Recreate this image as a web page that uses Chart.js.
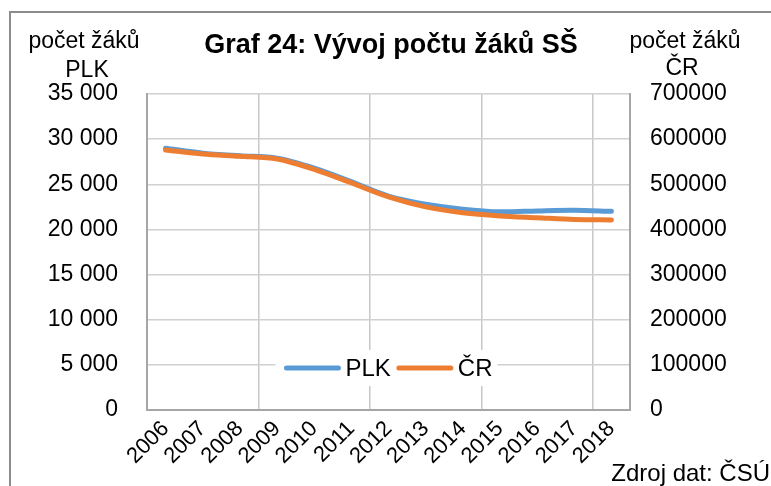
<!DOCTYPE html>
<html>
<head>
<meta charset="utf-8">
<script src="https://cdn.jsdelivr.net/npm/chart.js@4"></script>
<style>
  html, body { margin: 0; padding: 0; background: #fff; }
  #wrap { width: 771px; height: 486px; }
</style>
</head>
<body>
<div id="wrap"><canvas id="c" width="771" height="486"></canvas></div>
<script>
const years = ["2006","2007","2008","2009","2010","2011","2012","2013","2014","2015","2016","2017","2018"];
const plk = [29000, 28450, 28150, 27900, 26800, 25300, 23700, 22800, 22250, 21950, 22050, 22120, 22000];
const cr = [576000, 567000, 562000, 556000, 533000, 503000, 472000, 450000, 437000, 430000, 426000, 422000, 421000];
const leftTicks = { min: 0, max: 35000, step: 5000 };
const rightTicks = { min: 0, max: 700000, step: 100000 };

const FONT = "'Liberation Sans', Arial, sans-serif";
const BLUE = "#5b9bd5", ORANGE = "#ed7d31";

function spaced(v) { return String(v).replace(/\B(?=(\d{3})+(?!\d))/g, " "); }

// texty, rámeček a legenda uvnitř grafu
const decor = {
  id: "decor",
  beforeDraw(chart) {
    const ctx = chart.ctx;
    ctx.save();
    ctx.fillStyle = "#fff";
    ctx.fillRect(0, 0, chart.width, chart.height);
    ctx.strokeStyle = "#8c8c8c";
    ctx.lineWidth = 2;
    ctx.strokeRect(10, 12, 800, 500);
    ctx.restore();
  },
  afterDraw(chart) {
    const ctx = chart.ctx, a = chart.chartArea;
    ctx.save();
    ctx.fillStyle = "#000";
    ctx.textBaseline = "alphabetic";
    ctx.textAlign = "center";
    ctx.font = "bold 27px " + FONT;
    ctx.fillText("Graf 24: Vývoj počtu žáků SŠ", 391, 53);
    ctx.font = "23px " + FONT;
    ctx.fillText("počet žáků", 84, 48);
    ctx.fillText("PLK", 87, 77);
    ctx.fillText("počet žáků", 685, 48);
    ctx.fillText("ČR", 682, 75);
    ctx.textAlign = "right";
    ctx.font = "24px " + FONT;
    ctx.fillText("Zdroj dat: ČSÚ", 770, 481);

    // legenda
    const items = chart.data.datasets.map(d => ({ label: d.label, color: d.borderColor }));
    ctx.font = "24px " + FONT;
    const sample = 56, gap1 = 5, gap2 = 6;
    let total = 0;
    items.forEach((it, i) => { it.w = ctx.measureText(it.label).width; total += sample + gap1 + it.w + (i < items.length - 1 ? gap2 : 0); });
    const cx = (a.left + a.right) / 2, cy = a.bottom - 42;
    let x = cx - total / 2;
    ctx.fillStyle = "#fff";
    ctx.fillRect(x - 9, cy - 18, total + 14, 36);
    ctx.textAlign = "left";
    ctx.textBaseline = "middle";
    items.forEach(it => {
      ctx.strokeStyle = it.color;
      ctx.lineWidth = 5;
      ctx.lineCap = "round";
      ctx.beginPath();
      ctx.moveTo(x + 2, cy);
      ctx.lineTo(x + sample - 2, cy);
      ctx.stroke();
      x += sample + gap1;
      ctx.fillStyle = "#000";
      ctx.fillText(it.label, x, cy + 1);
      x += it.w + gap2;
    });
    ctx.restore();
  }
};

new Chart(document.getElementById("c"), {
  type: "line",
  data: {
    labels: years,
    datasets: [
      { label: "PLK", data: plk, yAxisID: "y", borderColor: BLUE, backgroundColor: BLUE, borderWidth: 5, pointRadius: 0, tension: 0.3, borderCapStyle: "round", order: 2 },
      { label: "ČR", data: cr, yAxisID: "y2", borderColor: ORANGE, backgroundColor: ORANGE, borderWidth: 5, pointRadius: 0, tension: 0.3, borderCapStyle: "round", order: 1 }
    ]
  },
  options: {
    responsive: false,
    animation: false,
    layout: { padding: { top: 94, left: 0, right: 0, bottom: 0 } },
    plugins: { legend: { display: false }, title: { display: false }, tooltip: { enabled: false } },
    scales: {
      x: {
        type: "category",
        offset: true,
        afterFit: s => { s.height = 76; },
        grid: { offset: true, drawTicks: false, color: c => (c.index % 3 === 0 ? "#c8c8c8" : "rgba(0,0,0,0)"), lineWidth: 1.5 },
        border: { display: true, color: "#a6a6a6", width: 2 },
        ticks: { autoSkip: false, minRotation: 45, maxRotation: 45, padding: 6, color: "#000", font: { family: FONT, size: 22 } }
      },
      y: {
        position: "left",
        min: leftTicks.min, max: leftTicks.max,
        afterFit: s => { s.width = 147; },
        grid: { drawTicks: false, color: "#d0d0d0", lineWidth: 1.5 },
        border: { display: true, color: "#a6a6a6", width: 2 },
        ticks: { stepSize: leftTicks.step, padding: 29, color: "#000", font: { family: FONT, size: 23 }, callback: v => spaced(v) }
      },
      y2: {
        position: "right",
        min: rightTicks.min, max: rightTicks.max,
        afterFit: s => { s.width = 141; },
        grid: { drawOnChartArea: false, drawTicks: false },
        border: { display: true, color: "#a6a6a6", width: 2 },
        ticks: { stepSize: rightTicks.step, padding: 20, color: "#000", font: { family: FONT, size: 23 }, callback: v => String(v) }
      }
    }
  },
  plugins: [decor]
});
</script>
</body>
</html>
